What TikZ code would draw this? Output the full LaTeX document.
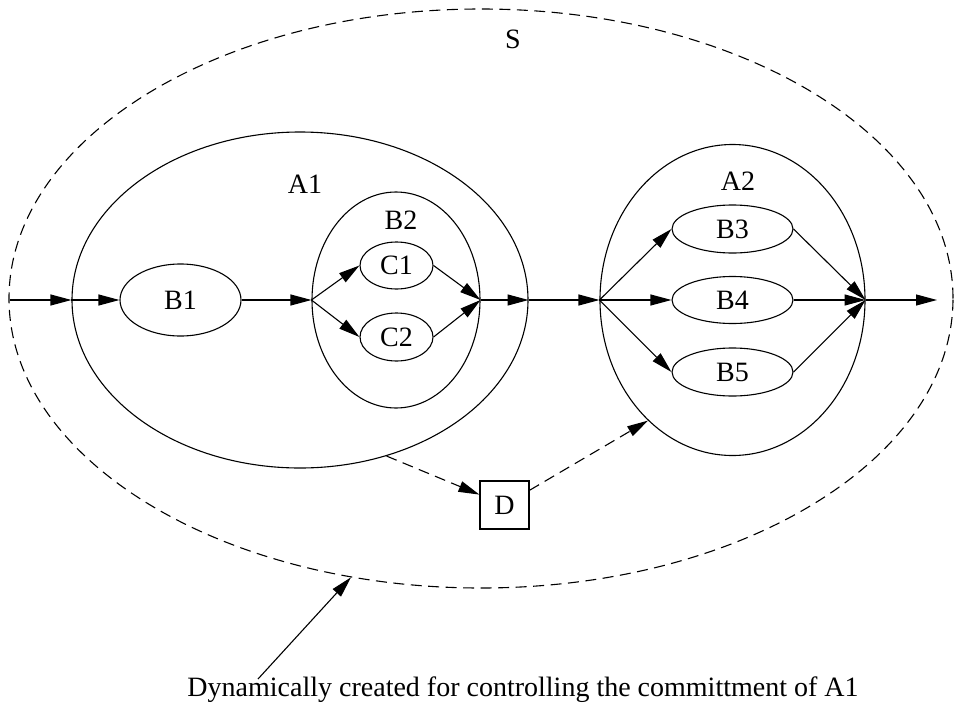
\documentclass[tikz,border=0pt]{standalone}
\usepackage{fontspec}
\setmainfont{Liberation Serif}
\usetikzlibrary{shapes.geometric,arrows.meta}
\begin{document}
\begin{tikzpicture}[x=1pt,y=-1pt,
  line width=1.1pt,
  every node/.style={font=\fontsize{28}{34}\selectfont},
  ell/.style 2 args={ellipse,draw,inner sep=0pt,minimum width=#1pt,minimum height=#2pt},
  lab/.style={inner sep=0pt},
  arr/.style={-{Triangle[length=21pt,width=11pt]}},
  dsh/.style={dash pattern=on 11pt off 6.5pt}]
\useasboundingbox (0,0) rectangle (954,715);
% containers
\node[ell={944}{579},dsh] (S) at (481,298.5) {};
\node[ell={456}{336}] (A1) at (300,300) {};
\node[ell={168}{216}] (B2) at (396,300) {};
\node[ell={265}{311}] (A2) at (732.5,300) {};
% inner nodes
\node[ell={121}{72}] (B1) at (180.5,300) {};
\node[lab] at (B1) {B1};
\node[ell={73}{47}] (C1) at (396.5,265.5) {};
\node[lab] at (C1) {C1};
\node[ell={73}{48}] (C2) at (396.5,337) {};
\node[lab] at (C2) {C2};
\node[ell={121}{48}] (B3) at (732.5,229) {};
\node[lab] at (B3) {B3};
\node[ell={121}{47}] (B4) at (732.5,300) {};
\node[lab] at (B4) {B4};
\node[ell={121}{48}] (B5) at (732.5,372) {};
\node[lab] at (B5) {B5};
\node[draw,minimum width=49pt,minimum height=48pt,inner sep=0pt] (D) at (504.5,505) {D};
% labels
\node[lab] (Slab) at (513,39) {S};
\node[lab] (A1lab) at (305,184) {A1};
\node[lab] (B2lab) at (401,220) {B2};
\node[lab] (A2lab) at (738,181) {A2};
\node[lab] (note) at (523,690) {Dynamically created for controlling the committment of A1};
% coordinates
\coordinate (in) at (10,300);
\coordinate (out) at (937,300);
\coordinate (nstart) at (258,679);
% edges
\draw[arr] (in) -- (A1.west);
\draw[arr] (A1.west) -- (B1.west);
\draw[arr] (B1.east) -- (B2.west);
\draw[arr] (B2.west) -- (C1.west);
\draw[arr] (B2.west) -- (C2.west);
\draw[arr] (C1.east) -- (B2.east);
\draw[arr] (C2.east) -- (B2.east);
\draw[arr] (B2.east) -- (A1.east);
\draw[arr] (A1.east) -- (A2.west);
\draw[arr] (A2.west) -- (B3.west);
\draw[arr] (A2.west) -- (B4.west);
\draw[arr] (A2.west) -- (B5.west);
\draw[arr] (B3.east) -- (A2.east);
\draw[arr] (B4.east) -- (A2.east);
\draw[arr] (B5.east) -- (A2.east);
\draw[arr] (A2.east) -- (out);
\draw[arr,dsh] (A1.-61.6) -- (D);
\draw[arr,dsh] (D) -- (A2.235.6);
\draw[arr] (nstart) -- (S.245.7);
\end{tikzpicture}
\end{document}
